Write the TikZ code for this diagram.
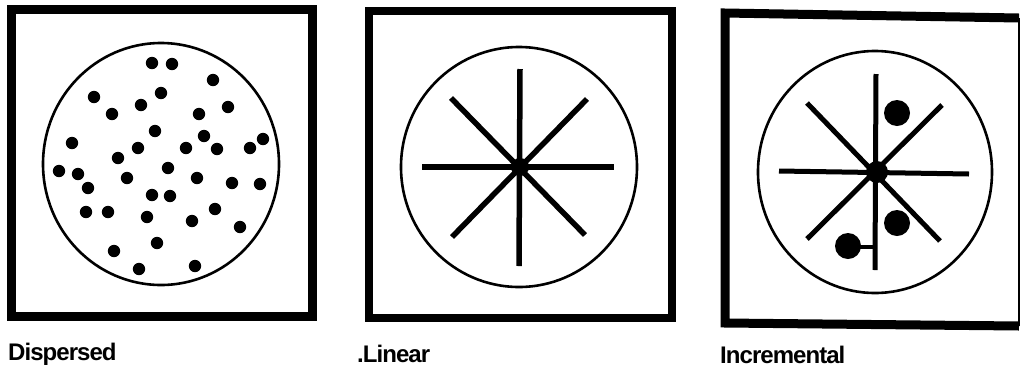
\documentclass[tikz,border=0pt]{standalone}
\usepackage{fontspec}
\setmainfont{Liberation Sans}
\newfontfamily\labfont[LetterSpace=-4]{Liberation Sans}
\begin{document}
\begin{tikzpicture}[x=1pt,y=-1pt,
  frame/.style={line width=9pt},
  ring/.style={line width=2.6pt},
  spoke/.style={line width=5.5pt},
  spoke3/.style={line width=5pt},
  lab/.style={anchor=base west,inner sep=0pt,font=\labfont\bfseries\fontsize{24}{26}\selectfont}]
\useasboundingbox[fill=white] (0,0) rectangle (1021,376);
% Panel 1: Dispersed
\draw[frame] (11,9) rectangle (312,316);
\coordinate (c1) at (161,164);
\draw[ring] (c1) ellipse [x radius=118, y radius=121];
\foreach \p in {(152,63),(172,64),(213,80),(161,93),(94,97),(141,105),(112,114),(199,114),(228,107),(155,131),(204,136),(72,143),(138,148),(186,148),(217,149),(250,148),(263,139),(118,158),(59,171),(78,174),(168,168),(127,178),(197,178),(88,188),(232,183),(260,184),(152,195),(170,196),(86,212),(108,212),(147,217),(215,209),(192,221),(240,227),(157,243),(114,251),(139,269),(195,266)}
  \fill \p circle [radius=6.2];
\node[lab] (l1) at (8,360) {Dispersed};
% Panel 2: Linear
\draw[frame,line width=8pt] (369,11) rectangle (672,318);
\coordinate (c2) at (519,167);
\draw[ring] (c2) ellipse [x radius=118, y radius=120];
\draw[spoke] (520,69) -- (519,266);
\draw[spoke] (422,167) -- (614,167);
\draw[spoke] (451,98) -- (585,235);
\draw[spoke] (587,99) -- (452,237);
\fill (520,167) circle [radius=9];
\node[lab] (l2) at (357,362) {.Linear};
% Panel 3: Incremental
\draw[frame,line cap=butt,line join=miter] (1019,18) -- (725,13) -- (725,323) -- (1019,326);
\draw[line width=1.5pt] (1019,18) -- (1019,326);
\coordinate (c3) at (875,172);
\draw[ring] (c3) ellipse [x radius=117, y radius=121];
\draw[spoke3] (876,74) -- (875,270);
\draw[spoke3] (779,171) -- (969,174);
\draw[spoke3] (807,103) -- (940,241);
\draw[spoke3] (942,105) -- (807,239);
\fill (877,172) circle [radius=11];
\fill (897,113) circle [radius=13];
\fill (897,223) circle [radius=13];
\fill (848,246) circle [radius=13];
\draw[line width=4pt] (848,247) -- (876,247);
\node[lab] (l3) at (720,363) {Incremental};
\end{tikzpicture}
\end{document}
